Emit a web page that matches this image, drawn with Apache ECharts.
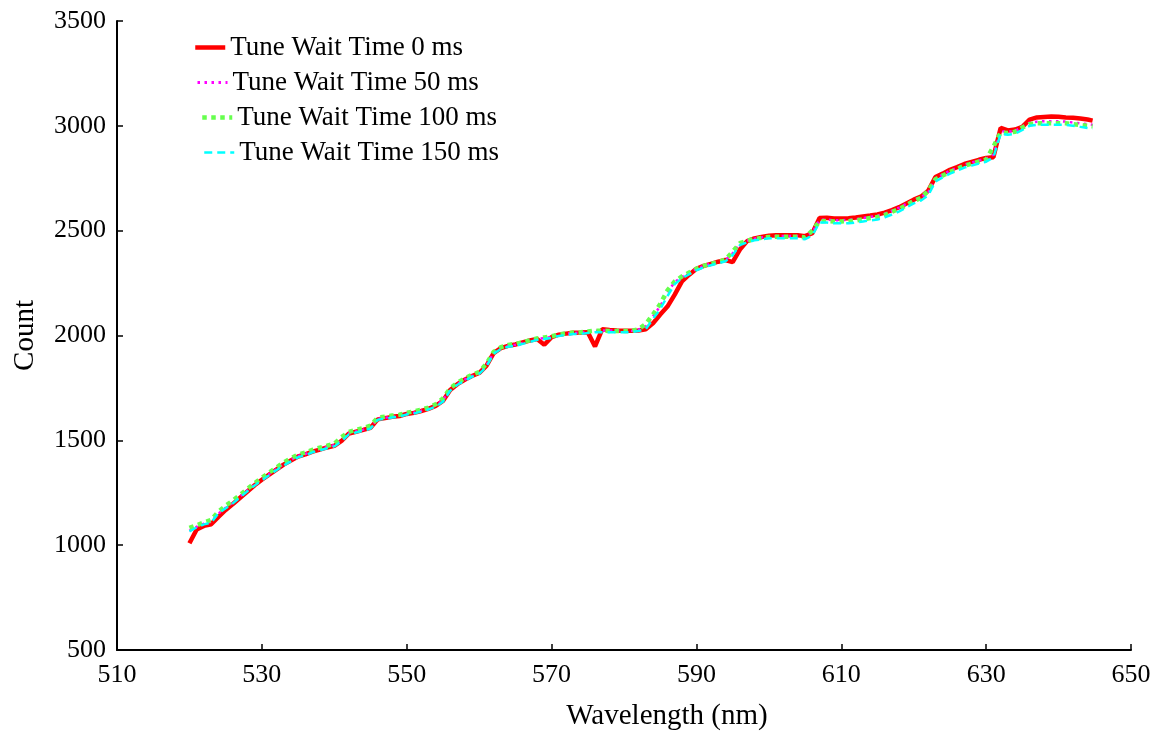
<!DOCTYPE html>
<html>
<head>
<meta charset="utf-8">
<script src="https://cdn.jsdelivr.net/npm/echarts@6/dist/echarts.min.js"></script>
<style>
html,body{margin:0;padding:0;background:#fff;}
#chart{width:1162px;height:736px;}
</style>
</head>
<body>
<div id="chart"></div>
<script>
// Wavelength (nm)
const wavelength = [520,521,522,523,524,525,526,527,528,529,530,531,532,533,534,535,536,537,538,539,540,541,542,543,544,545,546,547,548,549,550,551,552,553,554,555,556,557,558,559,560,561,562,563,564,565,566,567,568,569,570,571,572,573,574,575,576,577,578,579,580,581,582,583,584,585,586,587,588,589,590,591,592,593,594,595,596,597,598,599,600,601,602,603,604,605,606,607,608,609,610,611,612,613,614,615,616,617,618,619,620,621,622,623,624,625,626,627,628,629,630,631,632,633,634,635,636,637,638,639,640,641,642,643,644,644.7];

const wait0ms = [1009,1075,1092,1100,1135,1168,1196,1226,1256,1286,1312,1336,1360,1384,1404,1423,1433,1446,1456,1466,1474,1497,1532,1541,1550,1560,1600,1606,1612,1616,1626,1631,1640,1650,1664,1688,1740,1768,1789,1807,1821,1855,1916,1940,1951,1957,1967,1976,1983,1956,1992,2004,2009,2013,2014,2016,1948,2030,2026,2024,2023,2023,2024,2030,2058,2100,2138,2195,2258,2290,2318,2332,2342,2352,2360,2350,2410,2450,2463,2470,2476,2478,2478,2478,2478,2474,2488,2560,2562,2558,2558,2559,2563,2568,2572,2577,2586,2598,2612,2630,2648,2662,2690,2756,2772,2790,2803,2818,2828,2838,2847,2850,2990,2978,2982,2995,3030,3040,3042,3044,3043,3040,3038,3035,3030,3025];

const wait50ms = [1068,1088,1102,1112,1150,1178,1203,1232,1261,1290,1314,1338,1362,1386,1406,1425,1435,1448,1458,1468,1477,1505,1533,1542,1551,1562,1602,1607,1613,1617,1627,1632,1641,1651,1666,1692,1742,1770,1790,1808,1822,1858,1918,1941,1951,1956,1965,1974,1984,1988,1993,2003,2008,2012,2013,2018,2022,2024,2024,2023,2022,2022,2028,2045,2092,2140,2205,2255,2280,2298,2318,2332,2342,2351,2360,2392,2438,2452,2462,2468,2473,2474,2474,2474,2474,2470,2492,2552,2553,2550,2550,2551,2555,2560,2566,2571,2581,2595,2610,2628,2646,2660,2684,2750,2768,2786,2800,2815,2825,2835,2844,2862,2975,2972,2976,2996,3015,3020,3022,3022,3022,3020,3016,3012,3008,3005];

const wait100ms = [1082,1095,1108,1120,1160,1188,1213,1240,1268,1296,1322,1346,1370,1394,1414,1432,1442,1455,1465,1474,1484,1515,1540,1550,1558,1570,1608,1613,1618,1622,1632,1638,1646,1656,1672,1700,1748,1775,1795,1812,1826,1865,1922,1944,1955,1960,1968,1977,1986,1991,1996,2005,2010,2014,2015,2019,2023,2023,2022,2021,2021,2022,2030,2055,2100,2150,2215,2258,2282,2300,2318,2332,2342,2350,2362,2400,2440,2452,2460,2466,2470,2471,2471,2471,2471,2468,2500,2545,2546,2544,2544,2545,2549,2554,2560,2565,2575,2590,2604,2622,2641,2656,2690,2745,2763,2780,2794,2810,2820,2830,2840,2900,2968,2966,2972,2992,3008,3012,3012,3012,3012,3012,3008,3004,3000,2998];

const wait150ms = [1066,1085,1099,1108,1152,1176,1200,1228,1257,1285,1309,1333,1357,1380,1400,1419,1429,1443,1452,1462,1471,1495,1528,1537,1546,1556,1598,1603,1609,1613,1623,1628,1637,1647,1661,1684,1737,1765,1784,1803,1817,1851,1913,1936,1946,1950,1960,1969,1979,1983,1988,1998,2002,2007,2007,2012,2016,2016,2016,2016,2016,2016,2021,2031,2079,2126,2188,2245,2273,2292,2311,2325,2335,2344,2354,2383,2431,2445,2454,2459,2464,2464,2464,2464,2464,2459,2478,2539,2539,2535,2535,2535,2539,2544,2549,2553,2563,2577,2592,2611,2630,2644,2668,2735,2754,2772,2786,2801,2810,2820,2829,2849,2962,2957,2962,2981,3000,3005,3005,3005,3005,3005,3000,2995,2990,2986];

const seriesNames = ['Tune Wait Time 0 ms','Tune Wait Time 50 ms','Tune Wait Time 100 ms','Tune Wait Time 150 ms'];
const xTicks = [510,530,550,570,590,610,630,650];
const yTicks = [500,1000,1500,2000,2500,3000,3500];

const FONT = "'Liberation Serif','Times New Roman',serif";
const pair = arr => wavelength.map((w,i)=>[w, arr[i]]);

const chart = echarts.init(document.getElementById('chart'));

const styles = [
  {color:'#ff0000', width:4.5, type:'solid'},
  {color:'#ff00ff', width:2.5, type:[2.5,4.5]},
  {color:'#66ff4d', width:4.5, type:[4.5,4.5]},
  {color:'#00ffff', width:2.5, type:[8,5]}
];
const values = [wait0ms, wait50ms, wait100ms, wait150ms];
const legendPos = [[193,34],[196,69],[200,104],[203,139]];

chart.setOption({
  animation:false,
  backgroundColor:'#ffffff',
  grid:{left:117, right:31, top:21, bottom:84},
  xAxis:{
    type:'value', min:xTicks[0], max:xTicks[xTicks.length-1], interval:20,
    name:'Wavelength (nm)', nameLocation:'middle', nameGap:52,
    nameTextStyle:{fontFamily:FONT, fontSize:29, color:'#000', padding:[0,0,0,86]},
    axisLine:{show:true, lineStyle:{color:'#000', width:2}},
    axisTick:{show:true, inside:true, length:6, lineStyle:{color:'#000', width:1.5}},
    axisLabel:{fontFamily:FONT, fontSize:26, color:'#000', margin:12, formatter:v=>String(v)},
    splitLine:{show:false}
  },
  yAxis:{
    type:'value', min:yTicks[0], max:yTicks[yTicks.length-1], interval:500,
    name:'Count', nameLocation:'middle', nameGap:77, nameRotate:90,
    nameTextStyle:{fontFamily:FONT, fontSize:29, color:'#000'},
    axisLine:{show:true, lineStyle:{color:'#000', width:2}},
    axisTick:{show:true, inside:true, length:6, lineStyle:{color:'#000', width:1.5}},
    axisLabel:{fontFamily:FONT, fontSize:26, color:'#000', margin:11, formatter:v=>String(v)},
    splitLine:{show:false}
  },
  legend: seriesNames.map((n,i)=>({
    data:[n], left:legendPos[i][0], top:legendPos[i][1], padding:0,
    orient:'vertical', itemWidth:30, itemHeight:14,
    itemStyle:{opacity:0},
    lineStyle:{width:[4.5,3,4.5,2.5][i], color:styles[i].color, type:styles[i].type},
    textStyle:{fontFamily:FONT, fontSize:27, lineHeight:26, color:'#000'},
    selectedMode:false
  })),
  series: seriesNames.map((n,i)=>({
    name:n, type:'line', data:pair(values[i]),
    showSymbol:false, symbol:'none',
    lineStyle:{color:styles[i].color, width:styles[i].width, type:styles[i].type},
    itemStyle:{color:styles[i].color},
    emphasis:{disabled:true}
  }))
});
</script>
</body>
</html>
